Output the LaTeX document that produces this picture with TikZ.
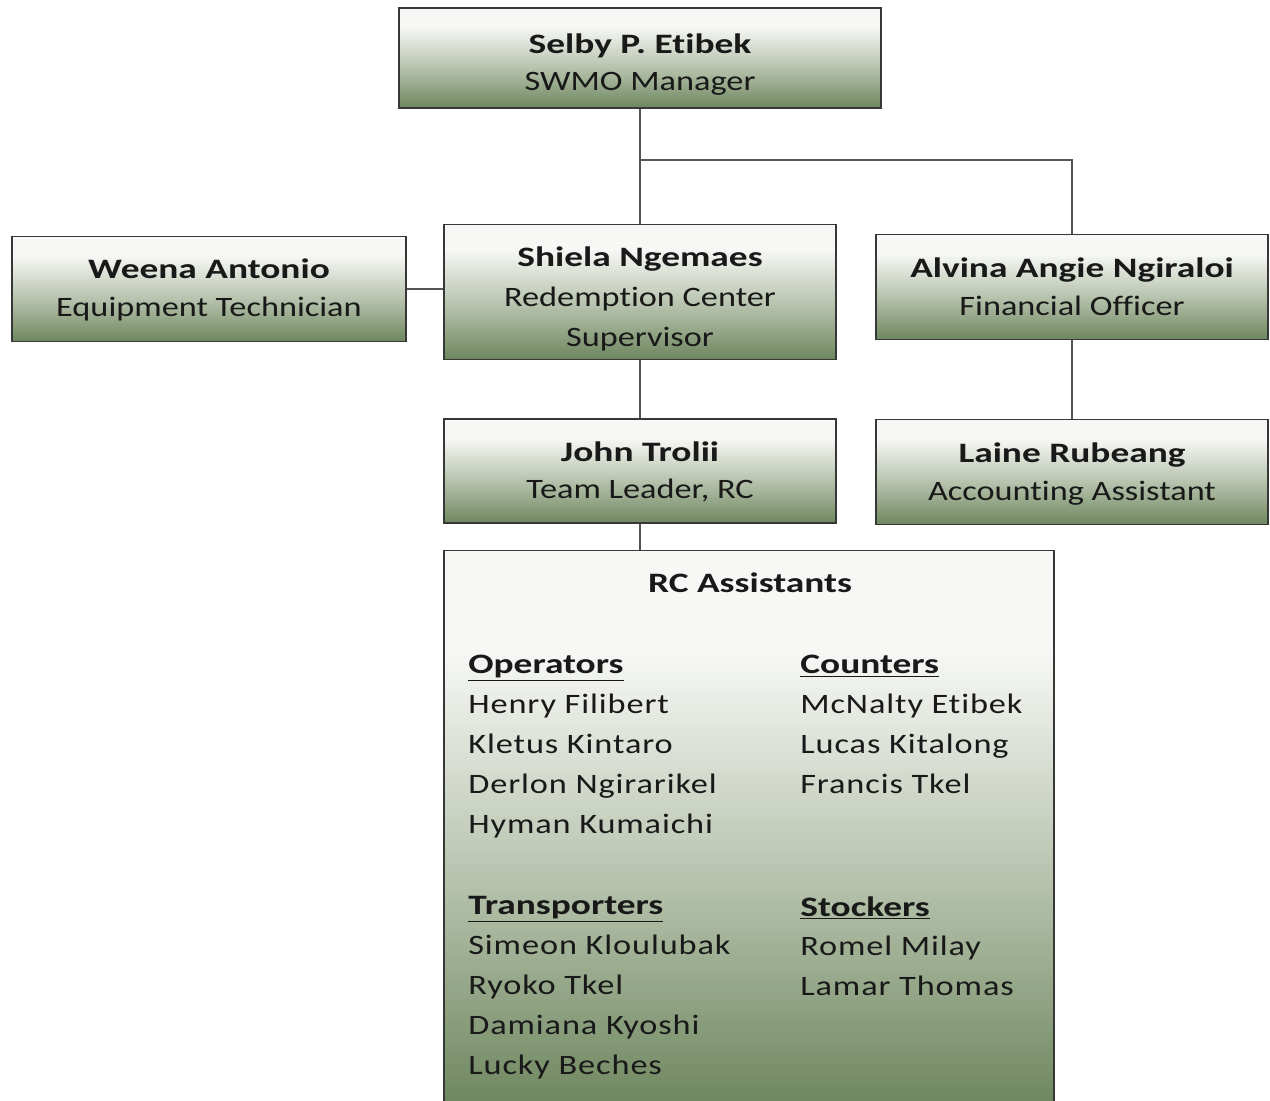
\documentclass[tikz,border=0pt]{standalone}
\usepackage{fontspec}
\setmainfont{Carlito}[Ligatures={NoCommon},FakeStretch=1.22,BoldFeatures={FakeStretch=1.33}]
\newfontfamily\listfont{Carlito}[Ligatures={NoCommon},FakeStretch=1.22,LetterSpace=3.2,BoldFeatures={FakeStretch=1.33,LetterSpace=0}]
\definecolor{gbot}{RGB}{110,135,95}
\definecolor{gmid}{RGB}{182,194,172}
\definecolor{gtop}{RGB}{247,248,246}
\definecolor{bordercol}{RGB}{55,55,55}
\definecolor{linecol}{RGB}{85,85,85}
\definecolor{txt}{RGB}{25,25,25}
\pgfdeclareverticalshading{boxshade}{100bp}{color(0bp)=(gbot); color(25bp)=(gbot); color(45bp)=(gmid); color(66bp)=(gtop); color(100bp)=(gtop)}
\begin{document}
\begin{tikzpicture}[x=0.02cm,y=-0.02cm,
  box/.style={draw=bordercol,line width=0.9pt,shading=boxshade,inner sep=0pt},
  boxtxt/.style={inner sep=0pt,align=center,text=txt,font=\fontsize{16}{21.5}\selectfont},
  conn/.style={draw=linecol,line width=0.9pt},
  listtxt/.style={inner sep=0pt,align=left,anchor=north west,text=txt,font=\listfont\fontsize{16}{22.7}\selectfont}]
\useasboundingbox (0,0) rectangle (1270,1101);
% boxes
\node[box,minimum width=9.64cm,minimum height=2.0cm] (selby) at (640,58) {};
\node[box,minimum width=7.88cm,minimum height=2.1cm] (weena) at (209,289) {};
\node[box,minimum width=7.84cm,minimum height=2.7cm] (shiela) at (640,292) {};
\node[box,minimum width=7.84cm,minimum height=2.1cm] (alvina) at (1072,287) {};
\node[box,minimum width=7.84cm,minimum height=2.08cm] (john) at (640,471) {};
\node[box,minimum width=7.84cm,minimum height=2.1cm] (laine) at (1072,472) {};
\node[box,minimum width=12.2cm,minimum height=11.1cm] (rc) at (749,828) {};
% box texts
\node[boxtxt] (selbyT) at (640,64.5) {\textbf{Selby P. Etibek}\\SWMO Manager};
\node[boxtxt] (weenaT) at (209,290) {\textbf{Weena Antonio}\\Equipment Technician};
\node[boxtxt,font=\fontsize{16}{22.7}\selectfont] (shielaT) at (640,299) {\textbf{Shiela Ngemaes}\\Redemption Center\\Supervisor};
\node[boxtxt] (alvinaT) at (1072,287) {\textbf{Alvina Angie Ngiraloi}\\Financial Officer};
\node[boxtxt] (johnT) at (640,472) {\textbf{John Trolii}\\Team Leader, RC};
\node[boxtxt] (laineT) at (1072,474) {\textbf{Laine Rubeang}\\Accounting Assistant};
\node[boxtxt,font=\fontsize{16}{20}\selectfont\bfseries] (rctitle) at (750,583) {RC Assistants};
\node[listtxt] (ops) at (468,655) {\textbf{\underline{Operators}}\\Henry Filibert\\Kletus Kintaro\\Derlon Ngirarikel\\Hyman Kumaichi};
\node[listtxt] (cnt) at (800,655) {\textbf{\underline{Counters}}\\McNalty Etibek\\Lucas Kitalong\\Francis Tkel};
\node[listtxt] (trn) at (468,896) {\textbf{\underline{Transporters}}\\Simeon Kloulubak\\Ryoko Tkel\\Damiana Kyoshi\\Lucky Beches};
\node[listtxt] (stk) at (800,896) {\textbf{\underline{Stockers}}\\Romel Milay\\Lamar Thomas};
% connectors
\coordinate (br) at (640,160);
\draw[conn] (selby.south) -- (shiela.north);
\draw[conn] (br) -| (alvina.north);
\draw[conn] (weena.east) -- (weena.east -| shiela.west);
\draw[conn] (shiela.south) -- (john.north);
\draw[conn] (alvina.south) -- (laine.north);
\draw[conn] (john.south) -- (john.south |- rc.north);
\end{tikzpicture}
\end{document}
